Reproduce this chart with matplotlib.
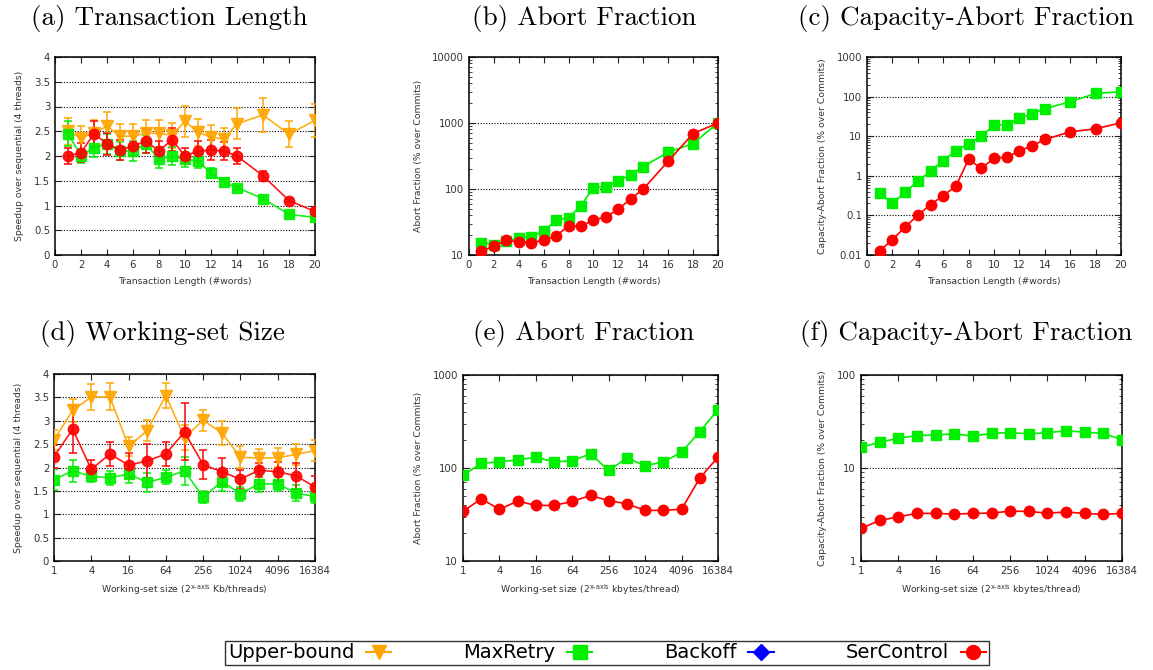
import numpy as np
import matplotlib.pyplot as plt
from matplotlib.ticker import NullFormatter, FuncFormatter, LogLocator
from matplotlib.lines import Line2D

plt.rcParams['font.family'] = 'DejaVu Sans'
plt.rcParams['mathtext.default'] = 'regular'

# ---- transaction length experiments ----
tx_len = [1, 2, 3, 4, 5, 6, 7, 8, 9, 10, 11, 12, 13, 14, 16, 18, 20]

a_upper = [2.50, 2.36, 2.47, 2.60, 2.40, 2.40, 2.46, 2.46, 2.42, 2.70, 2.48, 2.38, 2.34, 2.65, 2.83, 2.44, 2.72]
a_upper_err = [0.27, 0.24, 0.26, 0.29, 0.25, 0.25, 0.26, 0.27, 0.25, 0.32, 0.27, 0.24, 0.22, 0.31, 0.34, 0.26, 0.33]
a_maxretry = [2.45, 2.00, 2.17, 2.25, 2.10, 2.10, 2.25, 1.93, 2.00, 1.93, 1.90, 1.65, 1.47, 1.36, 1.14, 0.82, 0.76]
a_maxretry_err = [0.25, 0.15, 0.20, 0.20, 0.18, 0.20, 0.18, 0.17, 0.18, 0.15, 0.15, 0.10, 0.06, 0.04, 0.03, 0.03, 0.03]
a_sercontrol = [2.00, 2.07, 2.45, 2.25, 2.12, 2.20, 2.30, 2.10, 2.33, 2.00, 2.10, 2.12, 2.10, 2.00, 1.60, 1.10, 0.88]
a_sercontrol_err = [0.17, 0.19, 0.26, 0.22, 0.20, 0.20, 0.24, 0.20, 0.23, 0.17, 0.20, 0.20, 0.18, 0.17, 0.10, 0.03, 0.03]

b_maxretry = [15.4, 14.4, 16.3, 18.1, 19.0, 23.1, 33.6, 36.9, 56.1, 105, 108, 134, 164, 219, 361, 489, 1007]
b_sercontrol = [11.5, 13.5, 16.7, 15.9, 15.4, 16.7, 19.4, 27.9, 27.2, 34.0, 37.7, 49.9, 70.8, 100, 264, 693, 1000]

c_maxretry = [0.37, 0.20, 0.385, 0.73, 1.31, 2.43, 4.35, 6.42, 9.85, 19.1, 19.4, 28.1, 36.9, 49.4, 74.2, 120, 133]
c_sercontrol = [0.0126, 0.0244, 0.051, 0.101, 0.187, 0.317, 0.546, 2.63, 1.53, 2.79, 2.95, 4.27, 5.72, 8.26, 12.9, 15.4, 21.8]

# ---- working-set size experiments (x = log2 of size) ----
ws_exp = list(range(15))
ws_ticks = [0, 2, 4, 6, 8, 10, 12, 14]
ws_labels = ['1', '4', '16', '64', '256', '1024', '4096', '16384']

d_upper = [2.59, 3.22, 3.51, 3.51, 2.45, 2.79, 3.54, 2.64, 3.01, 2.74, 2.22, 2.20, 2.21, 2.28, 2.36]
d_upper_err = [0.22, 0.24, 0.27, 0.29, 0.20, 0.22, 0.27, 0.27, 0.23, 0.25, 0.24, 0.19, 0.20, 0.22, 0.23]
d_maxretry = [1.74, 1.93, 1.81, 1.78, 1.86, 1.68, 1.79, 1.93, 1.36, 1.70, 1.44, 1.65, 1.65, 1.45, 1.38]
d_maxretry_err = [0.22, 0.24, 0.13, 0.15, 0.20, 0.20, 0.15, 0.30, 0.13, 0.20, 0.15, 0.17, 0.15, 0.17, 0.15]
d_sercontrol = [2.23, 2.82, 1.96, 2.29, 2.05, 2.14, 2.29, 2.76, 2.06, 1.91, 1.75, 1.94, 1.91, 1.82, 1.58]
d_sercontrol_err = [0.25, 0.51, 0.19, 0.26, 0.27, 0.36, 0.26, 0.61, 0.31, 0.29, 0.20, 0.15, 0.20, 0.27, 0.23]

e_maxretry = [83.8, 112, 117, 122, 131, 116, 120, 142, 94, 128, 106, 116, 148, 246, 425]
e_sercontrol = [34.1, 46.7, 35.9, 44.1, 39.6, 39.6, 43.7, 50.7, 44.5, 41.2, 35.0, 35.0, 36.1, 77.8, 131]

f_maxretry = [16.7, 18.9, 20.9, 22.3, 22.7, 23.3, 22.0, 23.6, 24.0, 23.3, 24.0, 25.1, 24.3, 23.5, 20.2]
f_sercontrol = [2.24, 2.73, 2.99, 3.25, 3.25, 3.19, 3.25, 3.27, 3.44, 3.41, 3.27, 3.36, 3.25, 3.17, 3.25]

ORANGE = '#ffa500'
GREEN = '#00ee00'
BLUE = '#0000ff'
RED = '#ff0000'

FS = 7.3      # tick labels
LFS = 6.7     # axis labels
TITLE_FONT = 'cmr10'

fig = plt.figure(figsize=(11.53, 6.70), dpi=100)

W, H = 1153, 670
def add_ax(l, r, t, b):
    return fig.add_axes([l / W, 1 - b / H, (r - l) / W, (b - t) / H])

ax_a = add_ax(55, 315, 57, 255)
ax_b = add_ax(469, 718, 57, 255)
ax_c = add_ax(867, 1121, 57, 255)
ax_d = add_ax(54, 315, 374, 561)
ax_e = add_ax(463, 718, 375, 561)
ax_f = add_ax(861, 1122, 375, 561)


def style(ax):
    for s in ax.spines.values():
        s.set_linewidth(1.1)
    ax.tick_params(which='both', direction='in', top=True, right=True, labelsize=FS,
                   colors='#222222', labelcolor='#333333')
    ax.tick_params(which='major', length=4)
    ax.tick_params(which='minor', length=2.5)
    ax.yaxis.grid(True, which='major', linestyle=(0, (1, 1.5)), color='black', linewidth=0.8)
    ax.set_axisbelow(True)


def err_line(ax, x, y, e, color, marker, ms):
    ax.errorbar(x, y, yerr=e, color=color, ecolor=color, elinewidth=1.2, capsize=3,
                capthick=1.2, marker=marker, markersize=ms, linewidth=1.2, alpha=0.9, zorder=3)


def line(ax, x, y, color, marker, ms):
    ax.plot(x, y, color=color, marker=marker, markersize=ms, linewidth=1.2, zorder=3)


def log_axis(ax, lo, hi, fmt):
    ax.set_yscale('log')
    ax.set_ylim(lo, hi)
    ax.yaxis.set_major_locator(LogLocator(base=10, numticks=20))
    ax.yaxis.set_minor_locator(LogLocator(base=10, subs=np.arange(2, 10), numticks=20))
    ax.yaxis.set_major_formatter(FuncFormatter(fmt))
    ax.yaxis.set_minor_formatter(NullFormatter())


def len_x(ax):
    ax.set_xlim(0, 20)
    ax.set_xticks(range(0, 21, 2))
    ax.set_xlabel('Transaction Length (#words)', fontsize=LFS, color='#333333', labelpad=5)


def ws_x(ax, label):
    ax.set_xlim(0, 14)
    ax.set_xticks(ws_ticks)
    ax.set_xticklabels(ws_labels)
    ax.set_xlabel(label, fontsize=LFS, color='#333333', labelpad=5)


def int_fmt(v, pos):
    return '%g' % v


# (a)
style(ax_a)
err_line(ax_a, tx_len, a_upper, a_upper_err, ORANGE, 'v', 8)
err_line(ax_a, tx_len, a_maxretry, a_maxretry_err, GREEN, 's', 7)
err_line(ax_a, tx_len, a_sercontrol, a_sercontrol_err, RED, 'o', 7.5)
ax_a.set_ylim(0, 4)
ax_a.set_yticks(np.arange(0, 4.01, 0.5))
ax_a.yaxis.set_major_formatter(FuncFormatter(int_fmt))
ax_a.set_ylabel('Speedup over sequential (4 threads)', fontsize=LFS, color='#333333', labelpad=7)
len_x(ax_a)

# (b)
style(ax_b)
line(ax_b, tx_len, b_maxretry, GREEN, 's', 7)
line(ax_b, tx_len, b_sercontrol, RED, 'o', 7.5)
log_axis(ax_b, 10, 10000, int_fmt)
ax_b.set_ylabel('Abort Fraction (% over Commits)', fontsize=LFS, color='#333333', labelpad=7)
len_x(ax_b)

# (c)
style(ax_c)
line(ax_c, tx_len, c_maxretry, GREEN, 's', 7)
line(ax_c, tx_len, c_sercontrol, RED, 'o', 7.5)
log_axis(ax_c, 0.01, 1000, int_fmt)
ax_c.set_ylabel('Capacity-Abort Fraction (% over Commits)', fontsize=LFS, color='#333333', labelpad=7)
len_x(ax_c)

# (d)
style(ax_d)
err_line(ax_d, ws_exp, d_upper, d_upper_err, ORANGE, 'v', 8)
err_line(ax_d, ws_exp, d_maxretry, d_maxretry_err, GREEN, 's', 7)
err_line(ax_d, ws_exp, d_sercontrol, d_sercontrol_err, RED, 'o', 7.5)
ax_d.set_ylim(0, 4)
ax_d.set_yticks(np.arange(0, 4.01, 0.5))
ax_d.yaxis.set_major_formatter(FuncFormatter(int_fmt))
ax_d.set_ylabel('Speedup over sequential (4 threads)', fontsize=LFS, color='#333333', labelpad=7)
ws_x(ax_d, 'Working-set size (2$^{\\text{x-axis}}$ Kb/threads)')

# (e)
style(ax_e)
line(ax_e, ws_exp, e_maxretry, GREEN, 's', 7)
line(ax_e, ws_exp, e_sercontrol, RED, 'o', 7.5)
log_axis(ax_e, 10, 1000, int_fmt)
ax_e.set_ylabel('Abort Fraction (% over Commits)', fontsize=LFS, color='#333333', labelpad=7)
ws_x(ax_e, 'Working-set size (2$^{\\text{x-axis}}$ kbytes/thread)')

# (f)
style(ax_f)
line(ax_f, ws_exp, f_maxretry, GREEN, 's', 7)
line(ax_f, ws_exp, f_sercontrol, RED, 'o', 7.5)
log_axis(ax_f, 1, 100, int_fmt)
ax_f.set_ylabel('Capacity-Abort Fraction (% over Commits)', fontsize=LFS, color='#333333', labelpad=7)
ws_x(ax_f, 'Working-set size (2$^{\\text{x-axis}}$ kbytes/thread)')

# panel titles
titles = [('(a) Transaction Length', 169, 18), ('(b) Abort Fraction', 584, 18),
          ('(c) Capacity-Abort Fraction', 966, 18), ('(d) Working-set Size', 162, 333),
          ('(e) Abort Fraction', 584, 333), ('(f) Capacity-Abort Fraction', 966, 333)]
for txt, x, y in titles:
    fig.text(x / W, 1 - y / H, txt, family=TITLE_FONT, fontsize=19.5, ha='center', va='center')

# legend
handles = [
    Line2D([], [], color=ORANGE, marker='v', markersize=10, linewidth=1.5),
    Line2D([], [], color=GREEN, marker='s', markersize=10, linewidth=1.5),
    Line2D([], [], color=BLUE, marker='D', markersize=8, linewidth=1.5),
    Line2D([], [], color=RED, marker='o', markersize=10, linewidth=1.5),
]
labels = ['Upper-bound', 'MaxRetry', 'Backoff', 'SerControl']
leg = fig.legend(handles, labels, loc='center', bbox_to_anchor=(607 / W, 1 - 653 / H), ncol=4,
                 markerfirst=False, fontsize=14, frameon=True, fancybox=False, handlelength=1.3,
                 columnspacing=3.7, handletextpad=0.6, borderpad=0.15, borderaxespad=0,
                 edgecolor='black')
leg.get_frame().set_linewidth(1.0)

fig.savefig('out.png', dpi=100)
